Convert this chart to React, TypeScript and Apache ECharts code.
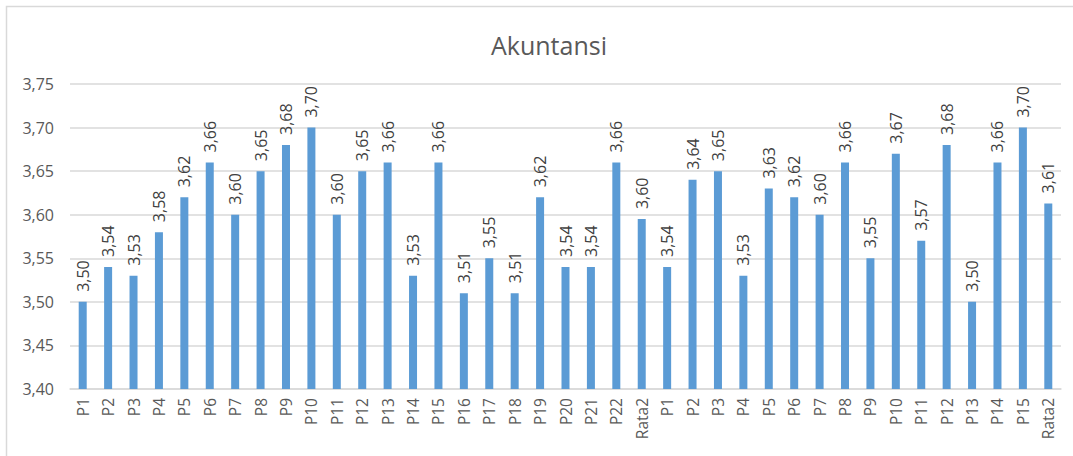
import React, { useEffect, useRef } from "react";
import * as echarts from "echarts";

const categories = [
  "P1","P2","P3","P4","P5","P6","P7","P8","P9","P10","P11","P12","P13","P14","P15","P16","P17","P18","P19","P20","P21","P22","Rata2",
  "P1","P2","P3","P4","P5","P6","P7","P8","P9","P10","P11","P12","P13","P14","P15","Rata2",
];
const values = [
  3.50, 3.54, 3.53, 3.58, 3.62, 3.66, 3.60, 3.65, 3.68, 3.70, 3.60, 3.65, 3.66, 3.53, 3.66, 3.51, 3.55, 3.51, 3.62, 3.54, 3.54, 3.66, 3.595,
  3.54, 3.64, 3.65, 3.53, 3.63, 3.62, 3.60, 3.66, 3.55, 3.67, 3.57, 3.68, 3.50, 3.66, 3.70, 3.613,
];
const title = "Akuntansi";
const yMin = 3.4;
const yMax = 3.75;
const yInterval = 0.05;

const fmt = (v: number) => v.toFixed(2).replace(".", ",");

export default function App() {
  const ref = useRef<HTMLDivElement>(null);
  useEffect(() => {
    if (!ref.current) return;
    const chart = echarts.init(ref.current, null, { renderer: "svg" });
    const font = "Open Sans";
    chart.setOption({
      animation: false,
      backgroundColor: "#ffffff",
      title: {
        text: title,
        left: 544,
        textAlign: "center",
        top: 27,
        textStyle: { fontFamily: font, fontSize: 25, fontWeight: "normal", color: "#595959" },
      },
      graphic: [
        {
          type: "rect",
          shape: { x: 6.5, y: 6.5, width: 1200, height: 600 },
          style: { fill: "none", stroke: "#d9d9d9", lineWidth: 1.5 },
          silent: true,
        },
      ],
      grid: { left: 70, right: 12, top: 84, bottom: 67 },
      xAxis: {
        type: "category",
        data: categories,
        axisLine: { lineStyle: { color: "#d9d9d9", width: 1.5 } },
        axisTick: { show: false },
        axisLabel: {
          interval: 0,
          rotate: 90,
          margin: 9,
          fontFamily: font,
          fontSize: 15.5,
          color: "#595959",
        },
      },
      yAxis: {
        type: "value",
        min: yMin,
        max: yMax,
        interval: yInterval,
        axisLine: { show: false },
        axisTick: { show: false },
        splitLine: { lineStyle: { color: "#d9d9d9", width: 1.5 } },
        axisLabel: {
          margin: 16,
          fontFamily: font,
          fontSize: 16,
          color: "#595959",
          formatter: (v: number) => fmt(v),
        },
      },
      series: [
        {
          type: "bar",
          data: values,
          barWidth: 8,
          itemStyle: { color: "#5b9bd5" },
          label: {
            show: true,
            position: "top",
            rotate: 90,
            align: "left",
            verticalAlign: "middle",
            distance: 10,
            fontFamily: font,
            fontSize: 16,
            color: "#404040",
            formatter: (p: any) => fmt(p.value),
          },
        },
      ],
    });
    return () => chart.dispose();
  }, []);
  return (
    <div
      ref={ref}
      style={{ position: "fixed", left: 0, top: 0, width: 1073, height: 456 }}
    />
  );
}
